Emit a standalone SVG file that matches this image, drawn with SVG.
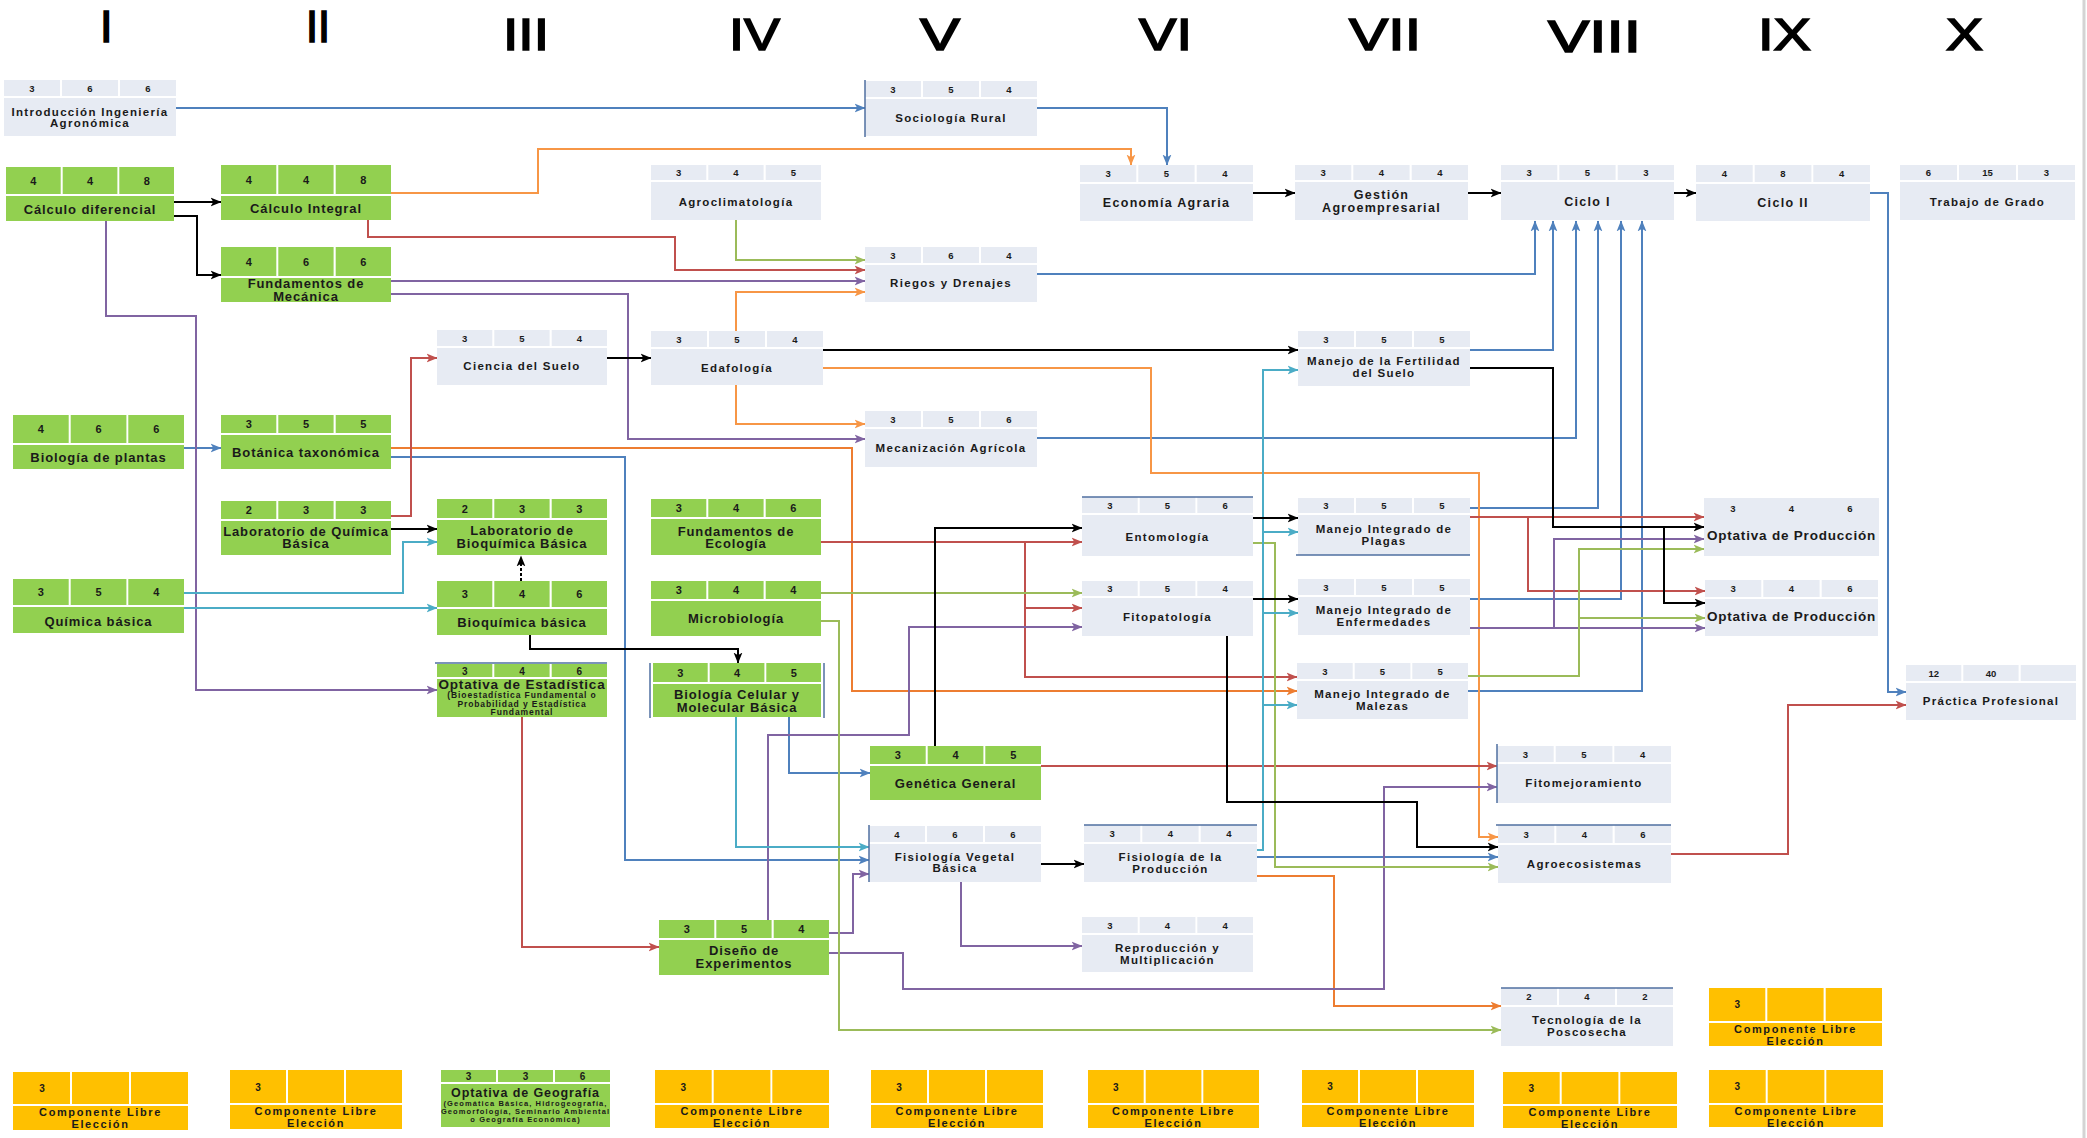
<svg xmlns="http://www.w3.org/2000/svg" width="2087" height="1138" viewBox="0 0 2087 1138">
<style>
.g{fill:#E7EBF3}
.v{fill:#92D050}
.y{fill:#FFC000}
text{font-family:"Liberation Sans",Arial,sans-serif;font-weight:bold;fill:#1a1a1a;text-anchor:middle}
.gn{font-size:9.5px}
.gl{font-size:11.5px;letter-spacing:1.3px}
.gL{font-size:12.5px;letter-spacing:1.3px}
.vn{font-size:11px}
.vl{font-size:13px;letter-spacing:0.9px}
.op{font-size:13.5px;letter-spacing:0.8px}
.sm{font-size:8.5px;letter-spacing:0.9px}
.sg{font-size:7.5px;letter-spacing:1.1px}
.yn{font-size:10px}
.yl{font-size:11px;letter-spacing:1.6px}
.hdr{font-size:45px;font-weight:normal;text-anchor:start;fill:#000;stroke:#000;stroke-width:1.6px}
.dec{stroke:#4F6FA0;stroke-width:1.5;fill:none}
.c{fill:none;stroke-width:2}
.bl{stroke:#4F81BD}.or{stroke:#F79646}.or2{stroke:#ED7D31}.rd{stroke:#C0504D}.pu{stroke:#8064A2}.gr{stroke:#9BBB59}.cy{stroke:#4BACC6}.bk{stroke:#000}
</style>
<defs>
<marker id="mB" viewBox="0 0 10 10" refX="9.5" refY="5" markerWidth="11" markerHeight="11" markerUnits="userSpaceOnUse" orient="auto"><path d="M0,1 L10,5 L0,9 L2.5,5 z" fill="#4F81BD"/></marker>
<marker id="mO" viewBox="0 0 10 10" refX="9.5" refY="5" markerWidth="11" markerHeight="11" markerUnits="userSpaceOnUse" orient="auto"><path d="M0,1 L10,5 L0,9 L2.5,5 z" fill="#F79646"/></marker>
<marker id="mO2" viewBox="0 0 10 10" refX="9.5" refY="5" markerWidth="11" markerHeight="11" markerUnits="userSpaceOnUse" orient="auto"><path d="M0,1 L10,5 L0,9 L2.5,5 z" fill="#ED7D31"/></marker>
<marker id="mR" viewBox="0 0 10 10" refX="9.5" refY="5" markerWidth="11" markerHeight="11" markerUnits="userSpaceOnUse" orient="auto"><path d="M0,1 L10,5 L0,9 L2.5,5 z" fill="#C0504D"/></marker>
<marker id="mP" viewBox="0 0 10 10" refX="9.5" refY="5" markerWidth="11" markerHeight="11" markerUnits="userSpaceOnUse" orient="auto"><path d="M0,1 L10,5 L0,9 L2.5,5 z" fill="#8064A2"/></marker>
<marker id="mG" viewBox="0 0 10 10" refX="9.5" refY="5" markerWidth="11" markerHeight="11" markerUnits="userSpaceOnUse" orient="auto"><path d="M0,1 L10,5 L0,9 L2.5,5 z" fill="#9BBB59"/></marker>
<marker id="mC" viewBox="0 0 10 10" refX="9.5" refY="5" markerWidth="11" markerHeight="11" markerUnits="userSpaceOnUse" orient="auto"><path d="M0,1 L10,5 L0,9 L2.5,5 z" fill="#4BACC6"/></marker>
<marker id="mK" viewBox="0 0 10 10" refX="9.5" refY="5" markerWidth="11" markerHeight="11" markerUnits="userSpaceOnUse" orient="auto"><path d="M0,1 L10,5 L0,9 L2.5,5 z" fill="#000"/></marker>
</defs>
<rect width="2087" height="1138" fill="#fff"/>
<line x1="2084" y1="0" x2="2084" y2="1138" stroke="#d4d4d4" stroke-width="3"/>

<g id="semesters">
<text class="hdr" x="100" y="42">I</text>
<text class="hdr" x="306" y="42" textLength="24" lengthAdjust="spacingAndGlyphs">II</text>
<text class="hdr" x="503" y="50" textLength="46" lengthAdjust="spacingAndGlyphs">III</text>
<text class="hdr" x="729" y="50" textLength="51" lengthAdjust="spacingAndGlyphs">IV</text>
<text class="hdr" x="920" y="50" textLength="40" lengthAdjust="spacingAndGlyphs">V</text>
<text class="hdr" x="1139" y="50" textLength="53" lengthAdjust="spacingAndGlyphs">VI</text>
<text class="hdr" x="1349" y="50" textLength="72" lengthAdjust="spacingAndGlyphs">VII</text>
<text class="hdr" x="1548" y="52" textLength="93" lengthAdjust="spacingAndGlyphs">VIII</text>
<text class="hdr" x="1758" y="50" textLength="53" lengthAdjust="spacingAndGlyphs">IX</text>
<text class="hdr" x="1946" y="50" textLength="37" lengthAdjust="spacingAndGlyphs">X</text>
</g>

<g id="connectors">
<path class="c bl" marker-end="url(#mB)" d="M176,108 H865"/>
<path class="c bl" marker-end="url(#mB)" d="M1037,108 H1167 V165"/>
<path class="c bl" marker-end="url(#mB)" d="M1037,274 H1535 V221"/>
<path class="c bl" marker-end="url(#mB)" d="M1470,350 H1553 V221"/>
<path class="c bl" marker-end="url(#mB)" d="M1037,438 H1576 V221"/>
<path class="c bl" marker-end="url(#mB)" d="M1470,508 H1598 V221"/>
<path class="c bl" marker-end="url(#mB)" d="M1470,599 H1621 V221"/>
<path class="c bl" marker-end="url(#mB)" d="M1468,691 H1642 V221"/>
<path class="c bl" marker-end="url(#mB)" d="M1870,193 H1888 V692 H1906"/>
<path class="c bl" marker-end="url(#mB)" d="M184,448 H221"/>
<path class="c bl" marker-end="url(#mB)" d="M391,457 H625 V860 H869"/>
<path class="c bl" marker-end="url(#mB)" d="M789,717 V773 H870"/>
<path class="c bl" marker-end="url(#mB)" d="M1257,857 H1498"/>

<path class="c or" marker-end="url(#mO)" d="M391,193 H538 V149 H1131 V165"/>
<path class="c or" marker-end="url(#mO)" d="M736,331 V292 H865"/>
<path class="c or" marker-end="url(#mO)" d="M736,385 V424 H865"/>
<path class="c or" marker-end="url(#mO)" d="M823,368 H1151 V473 H1479 V837 H1498"/>
<path class="c or2" marker-end="url(#mO2)" d="M391,448 H852 V691 H1297"/>
<path class="c or2" marker-end="url(#mO2)" d="M1257,876 H1334 V1006 H1501"/>

<path class="c rd" marker-end="url(#mR)" d="M368,220 V237 H675 V270 H865"/>
<path class="c rd" marker-end="url(#mR)" d="M391,516 H411 V358 H437"/>
<path class="c rd" marker-end="url(#mR)" d="M821,542 H1082"/>
<path class="c rd" marker-end="url(#mR)" d="M1025,542 V677 H1297"/>
<path class="c rd" marker-end="url(#mR)" d="M1025,608 H1082"/>
<path class="c rd" marker-end="url(#mR)" d="M522,717 V947 H659"/>
<path class="c rd" marker-end="url(#mR)" d="M1041,766 H1497"/>
<path class="c rd" marker-end="url(#mR)" d="M1671,854 H1788 V705 H1906"/>
<path class="c rd" marker-end="url(#mR)" d="M1470,517 H1704"/>
<path class="c rd" marker-end="url(#mR)" d="M1528,517 V591 H1705"/>

<path class="c pu" marker-end="url(#mP)" d="M106,221 V316 H196 V690 H437"/>
<path class="c pu" marker-end="url(#mP)" d="M391,281 H865"/>
<path class="c pu" marker-end="url(#mP)" d="M391,294 H628 V439 H865"/>
<path class="c pu" marker-end="url(#mP)" d="M768,920 V735 H909 V627 H1082"/>
<path class="c pu" marker-end="url(#mP)" d="M829,933 H853 V874 H869"/>
<path class="c pu" marker-end="url(#mP)" d="M829,953 H903 V989 H1384 V787 H1497"/>
<path class="c pu" marker-end="url(#mP)" d="M961,882 V946 H1082"/>
<path class="c pu" marker-end="url(#mP)" d="M1470,628 H1705"/>
<path class="c pu" marker-end="url(#mP)" d="M1554,628 V539 H1704"/>

<path class="c gr" marker-end="url(#mG)" d="M736,220 V260 H865"/>
<path class="c gr" marker-end="url(#mG)" d="M821,593 H1082"/>
<path class="c gr" marker-end="url(#mG)" d="M821,621 H839 V1030 H1501"/>
<path class="c gr" marker-end="url(#mG)" d="M1253,543 H1275 V867 H1498"/>
<path class="c gr" marker-end="url(#mG)" d="M1468,676 H1579 V549 H1704"/>
<path class="c gr" marker-end="url(#mG)" d="M1579,618 H1705"/>

<path class="c cy" marker-end="url(#mC)" d="M184,593 H403 V542 H437"/>
<path class="c cy" marker-end="url(#mC)" d="M184,608 H437"/>
<path class="c cy" marker-end="url(#mC)" d="M736,717 V847 H869"/>
<path class="c cy" marker-end="url(#mC)" d="M1257,850 H1263 V370 H1298"/>
<path class="c cy" marker-end="url(#mC)" d="M1263,532 H1298"/>
<path class="c cy" marker-end="url(#mC)" d="M1263,613 H1298"/>
<path class="c cy" marker-end="url(#mC)" d="M1263,705 H1297"/>

<path class="c bk" marker-end="url(#mK)" d="M174,202 H221"/>
<path class="c bk" marker-end="url(#mK)" d="M174,216 H197 V275 H221"/>
<path class="c bk" marker-end="url(#mK)" d="M1253,193 H1295"/>
<path class="c bk" marker-end="url(#mK)" d="M1468,193 H1501"/>
<path class="c bk" marker-end="url(#mK)" d="M1674,193 H1696"/>
<path class="c bk" marker-end="url(#mK)" d="M607,358 H651"/>
<path class="c bk" marker-end="url(#mK)" d="M823,350 H1298"/>
<path class="c bk" marker-end="url(#mK)" d="M391,529 H437"/>
<path class="c bk" marker-end="url(#mK)" stroke-dasharray="3,2" d="M521,581 V556"/>
<path class="c bk" marker-end="url(#mK)" d="M530,635 V649 H738 V663"/>
<path class="c bk" marker-end="url(#mK)" d="M935,746 V528 H1082"/>
<path class="c bk" marker-end="url(#mK)" d="M1253,518 H1298"/>
<path class="c bk" marker-end="url(#mK)" d="M1253,599 H1298"/>
<path class="c bk" marker-end="url(#mK)" d="M1041,864 H1084"/>
<path class="c bk" marker-end="url(#mK)" d="M1227,636 V802 H1417 V847 H1498"/>
<path class="c bk" marker-end="url(#mK)" d="M1470,368 H1553 V527 H1704"/>
<path class="c bk" marker-end="url(#mK)" d="M1664,527 V603 H1705"/>
</g>

<!-- gray nodes -->
<g id="n-intro" transform="translate(4,80)">
<rect class="g" width="56" height="16"/><rect class="g" x="58" width="56" height="16"/><rect class="g" x="116" width="56" height="16"/>
<rect class="g" y="18" width="172" height="38"/>
<text class="gn" x="28" y="11.5">3</text><text class="gn" x="86" y="11.5">6</text><text class="gn" x="144" y="11.5">6</text>
<text class="gl" x="86" y="36">Introducción Ingeniería</text><text class="gl" x="86" y="47">Agronómica</text>
</g>
<g id="n-socio" transform="translate(865,81)">
<rect class="g" width="56" height="16"/><rect class="g" x="58" width="56" height="16"/><rect class="g" x="116" width="56" height="16"/>
<rect class="g" y="18" width="172" height="37"/>
<text class="gn" x="28" y="11.5">3</text><text class="gn" x="86" y="11.5">5</text><text class="gn" x="144" y="11.5">4</text>
<text class="gl" x="86" y="40.5">Sociología Rural</text>
<line class="dec" x1="0" y1="-1" x2="0" y2="56"/>
</g>
<g id="n-econ" transform="translate(1080,165)">
<rect class="g" width="56.3" height="17"/><rect class="g" x="58.3" width="56.3" height="17"/><rect class="g" x="116.7" width="56.3" height="17"/>
<rect class="g" y="19" width="173" height="37"/>
<text class="gn" x="28.2" y="12">3</text><text class="gn" x="86.5" y="12">5</text><text class="gn" x="144.8" y="12">4</text>
<text class="gL" x="86.5" y="42">Economía Agraria</text>
</g>
<g id="n-gest" transform="translate(1295,165)">
<rect class="g" width="56.3" height="15"/><rect class="g" x="58.3" width="56.3" height="15"/><rect class="g" x="116.7" width="56.3" height="15"/>
<rect class="g" y="17" width="173" height="38"/>
<text class="gn" x="28.2" y="11">3</text><text class="gn" x="86.5" y="11">4</text><text class="gn" x="144.8" y="11">4</text>
<text class="gL" x="86.5" y="33.5">Gestión</text><text class="gL" x="86.5" y="46.5">Agroempresarial</text>
</g>
<g id="n-ciclo1" transform="translate(1501,165)">
<rect class="g" width="56.3" height="15"/><rect class="g" x="58.3" width="56.3" height="15"/><rect class="g" x="116.7" width="56.3" height="15"/>
<rect class="g" y="17" width="173" height="38"/>
<text class="gn" x="28.2" y="11">3</text><text class="gn" x="86.5" y="11">5</text><text class="gn" x="144.8" y="11">3</text>
<text class="gL" x="86.5" y="41">Ciclo I</text>
</g>
<g id="n-ciclo2" transform="translate(1696,165)">
<rect class="g" width="56.7" height="17"/><rect class="g" x="58.7" width="56.7" height="17"/><rect class="g" x="117.3" width="56.7" height="17"/>
<rect class="g" y="19" width="174" height="37"/>
<text class="gn" x="28.3" y="12">4</text><text class="gn" x="87" y="12">8</text><text class="gn" x="145.7" y="12">4</text>
<text class="gL" x="87" y="42">Ciclo II</text>
</g>
<g id="n-trabajo" transform="translate(1900,165)">
<rect class="g" width="57" height="15"/><rect class="g" x="59" width="57" height="15"/><rect class="g" x="118" width="57" height="15"/>
<rect class="g" y="17" width="175" height="38"/>
<text class="gn" x="28.5" y="11">6</text><text class="gn" x="87.5" y="11">15</text><text class="gn" x="146.5" y="11">3</text>
<text class="gl" x="87.5" y="41">Trabajo de Grado</text>
</g>
<g id="n-agroclim" transform="translate(651,165)">
<rect class="g" width="55.3" height="15"/><rect class="g" x="57.3" width="55.3" height="15"/><rect class="g" x="114.7" width="55.3" height="15"/>
<rect class="g" y="17" width="170" height="38"/>
<text class="gn" x="27.7" y="11">3</text><text class="gn" x="85" y="11">4</text><text class="gn" x="142.3" y="11">5</text>
<text class="gl" x="85" y="41">Agroclimatología</text>
</g>
<g id="n-riegos" transform="translate(865,247)">
<rect class="g" width="56" height="16"/><rect class="g" x="58" width="56" height="16"/><rect class="g" x="116" width="56" height="16"/>
<rect class="g" y="18" width="172" height="37"/>
<text class="gn" x="28" y="11.5">3</text><text class="gn" x="86" y="11.5">6</text><text class="gn" x="144" y="11.5">4</text>
<text class="gl" x="86" y="40">Riegos y Drenajes</text>
</g>
<g id="n-ciencia" transform="translate(437,330)">
<rect class="g" width="55.3" height="16"/><rect class="g" x="57.3" width="55.3" height="16"/><rect class="g" x="114.7" width="55.3" height="16"/>
<rect class="g" y="18" width="170" height="37"/>
<text class="gn" x="27.7" y="11.5">3</text><text class="gn" x="85" y="11.5">5</text><text class="gn" x="142.3" y="11.5">4</text>
<text class="gl" x="85" y="40">Ciencia del Suelo</text>
</g>
<g id="n-edaf" transform="translate(651,331)">
<rect class="g" width="56" height="16"/><rect class="g" x="58" width="56" height="16"/><rect class="g" x="116" width="56" height="16"/>
<rect class="g" y="18" width="172" height="36"/>
<text class="gn" x="28" y="11.5">3</text><text class="gn" x="86" y="11.5">5</text><text class="gn" x="144" y="11.5">4</text>
<text class="gl" x="86" y="41">Edafología</text>
</g>
<g id="n-fert" transform="translate(1298,331)">
<rect class="g" width="56" height="16"/><rect class="g" x="58" width="56" height="16"/><rect class="g" x="116" width="56" height="16"/>
<rect class="g" y="18" width="172" height="37"/>
<text class="gn" x="28" y="11.5">3</text><text class="gn" x="86" y="11.5">5</text><text class="gn" x="144" y="11.5">5</text>
<text class="gl" x="86" y="34">Manejo de la Fertilidad</text><text class="gl" x="86" y="46">del Suelo</text>
</g>
<g id="n-mecan" transform="translate(865,411)">
<rect class="g" width="56" height="16"/><rect class="g" x="58" width="56" height="16"/><rect class="g" x="116" width="56" height="16"/>
<rect class="g" y="18" width="172" height="38"/>
<text class="gn" x="28" y="11.5">3</text><text class="gn" x="86" y="11.5">5</text><text class="gn" x="144" y="11.5">6</text>
<text class="gl" x="86" y="41">Mecanización Agrícola</text>
</g>
<g id="n-entomo" transform="translate(1082,497)">
<rect class="g" width="55.7" height="16"/><rect class="g" x="57.7" width="55.7" height="16"/><rect class="g" x="115.3" width="55.7" height="16"/>
<rect class="g" y="18" width="171" height="41"/>
<text class="gn" x="27.8" y="11.5">3</text><text class="gn" x="85.5" y="11.5">5</text><text class="gn" x="143.2" y="11.5">6</text>
<text class="gl" x="85.5" y="44">Entomología</text>
<line class="dec" x1="0" y1="0" x2="171" y2="0"/>
</g>
<g id="n-plagas" transform="translate(1298,498)">
<rect class="g" width="56" height="15"/><rect class="g" x="58" width="56" height="15"/><rect class="g" x="116" width="56" height="15"/>
<rect class="g" y="17" width="172" height="40"/>
<text class="gn" x="28" y="11">3</text><text class="gn" x="86" y="11">5</text><text class="gn" x="144" y="11">5</text>
<text class="gl" x="86" y="35">Manejo Integrado de</text><text class="gl" x="86" y="47">Plagas</text>
<line class="dec" x1="-2" y1="57" x2="172" y2="57"/>
</g>
<g id="n-fitopat" transform="translate(1082,581)">
<rect class="g" width="55.7" height="15"/><rect class="g" x="57.7" width="55.7" height="15"/><rect class="g" x="115.3" width="55.7" height="15"/>
<rect class="g" y="17" width="171" height="38"/>
<text class="gn" x="27.8" y="11">3</text><text class="gn" x="85.5" y="11">5</text><text class="gn" x="143.2" y="11">4</text>
<text class="gl" x="85.5" y="40">Fitopatología</text>
</g>
<g id="n-enferm" transform="translate(1298,579)">
<rect class="g" width="56" height="16"/><rect class="g" x="58" width="56" height="16"/><rect class="g" x="116" width="56" height="16"/>
<rect class="g" y="18" width="172" height="38"/>
<text class="gn" x="28" y="11.5">3</text><text class="gn" x="86" y="11.5">5</text><text class="gn" x="144" y="11.5">5</text>
<text class="gl" x="86" y="35">Manejo Integrado de</text><text class="gl" x="86" y="47">Enfermedades</text>
</g>
<g id="n-malezas" transform="translate(1297,663)">
<rect class="g" width="55.7" height="16"/><rect class="g" x="57.7" width="55.7" height="16"/><rect class="g" x="115.3" width="55.7" height="16"/>
<rect class="g" y="18" width="171" height="38"/>
<text class="gn" x="27.8" y="11.5">3</text><text class="gn" x="85.5" y="11.5">5</text><text class="gn" x="143.2" y="11.5">5</text>
<text class="gl" x="85.5" y="35">Manejo Integrado de</text><text class="gl" x="85.5" y="47">Malezas</text>
</g>
<g id="n-optprod1" transform="translate(1704,498)">
<rect class="g" width="175" height="58"/>
<text class="gn" x="29" y="14">3</text><text class="gn" x="87.5" y="14">4</text><text class="gn" x="146" y="14">6</text>
<text class="op" x="87.5" y="41.5">Optativa de Producción</text>
</g>
<g id="n-optprod2" transform="translate(1705,580)">
<rect class="g" width="56.3" height="17"/><rect class="g" x="58.3" width="56.3" height="17"/><rect class="g" x="116.7" width="56.3" height="17"/>
<rect class="g" y="19" width="173" height="37"/>
<text class="gn" x="28.2" y="12">3</text><text class="gn" x="86.5" y="12">4</text><text class="gn" x="144.8" y="12">6</text>
<text class="op" x="86.5" y="40.5">Optativa de Producción</text>
</g>
<g id="n-practica" transform="translate(1906,665)">
<rect class="g" width="55.3" height="16"/><rect class="g" x="57.3" width="55.3" height="16"/><rect class="g" x="114.7" width="55.3" height="16"/>
<rect class="g" y="18" width="170" height="37"/>
<text class="gn" x="27.7" y="11.5">12</text><text class="gn" x="85" y="11.5">40</text>
<text class="gl" x="85" y="40">Práctica Profesional</text>
</g>
<g id="n-fitomej" transform="translate(1497,746)">
<rect class="g" width="56.7" height="16"/><rect class="g" x="58.7" width="56.7" height="16"/><rect class="g" x="117.3" width="56.7" height="16"/>
<rect class="g" y="18" width="174" height="39"/>
<text class="gn" x="28.3" y="11.5">3</text><text class="gn" x="87" y="11.5">5</text><text class="gn" x="145.7" y="11.5">4</text>
<text class="gl" x="87" y="41">Fitomejoramiento</text>
<line class="dec" x1="0" y1="-2" x2="0" y2="57"/>
</g>
<g id="n-agroeco" transform="translate(1498,825)">
<rect class="g" width="56.3" height="18"/><rect class="g" x="58.3" width="56.3" height="18"/><rect class="g" x="116.7" width="56.3" height="18"/>
<rect class="g" y="20" width="173" height="38"/>
<text class="gn" x="28.2" y="12.5">3</text><text class="gn" x="86.5" y="12.5">4</text><text class="gn" x="144.8" y="12.5">6</text>
<text class="gl" x="86.5" y="43">Agroecosistemas</text>
<line class="dec" x1="-2" y1="0" x2="173" y2="0"/>
</g>
<g id="n-fisioveg" transform="translate(869,826)">
<rect class="g" width="56" height="16"/><rect class="g" x="58" width="56" height="16"/><rect class="g" x="116" width="56" height="16"/>
<rect class="g" y="18" width="172" height="38"/>
<text class="gn" x="28" y="11.5">4</text><text class="gn" x="86" y="11.5">6</text><text class="gn" x="144" y="11.5">6</text>
<text class="gl" x="86" y="35">Fisiología Vegetal</text><text class="gl" x="86" y="46">Básica</text>
<line class="dec" x1="0" y1="-1" x2="0" y2="56"/>
</g>
<g id="n-fisioprod" transform="translate(1084,825)">
<rect class="g" width="56.3" height="17"/><rect class="g" x="58.3" width="56.3" height="17"/><rect class="g" x="116.7" width="56.3" height="17"/>
<rect class="g" y="19" width="173" height="38"/>
<text class="gn" x="28.2" y="12">3</text><text class="gn" x="86.5" y="12">4</text><text class="gn" x="144.8" y="12">4</text>
<text class="gl" x="86.5" y="36">Fisiología de la</text><text class="gl" x="86.5" y="48">Producción</text>
<line class="dec" x1="0" y1="0" x2="173" y2="0"/>
</g>
<g id="n-reprod" transform="translate(1082,917)">
<rect class="g" width="55.7" height="16"/><rect class="g" x="57.7" width="55.7" height="16"/><rect class="g" x="115.3" width="55.7" height="16"/>
<rect class="g" y="18" width="171" height="37"/>
<text class="gn" x="27.8" y="11.5">3</text><text class="gn" x="85.5" y="11.5">4</text><text class="gn" x="143.2" y="11.5">4</text>
<text class="gl" x="85.5" y="35">Reproducción y</text><text class="gl" x="85.5" y="47">Multiplicación</text>
</g>
<g id="n-poscos" transform="translate(1501,988)">
<rect class="g" width="56" height="17"/><rect class="g" x="58" width="56" height="17"/><rect class="g" x="116" width="56" height="17"/>
<rect class="g" y="19" width="172" height="39"/>
<text class="gn" x="28" y="12">2</text><text class="gn" x="86" y="12">4</text><text class="gn" x="144" y="12">2</text>
<text class="gl" x="86" y="36">Tecnología de la</text><text class="gl" x="86" y="48">Poscosecha</text>
<line class="dec" x1="0" y1="0" x2="172" y2="0"/>
</g>

<!-- green nodes -->
<g id="n-calcdif" transform="translate(6,167)">
<rect class="v" width="54.7" height="27"/><rect class="v" x="56.7" width="54.7" height="27"/><rect class="v" x="113.3" width="54.7" height="27"/>
<rect class="v" y="29" width="168" height="25"/>
<text class="vn" x="27.3" y="17.5">4</text><text class="vn" x="84" y="17.5">4</text><text class="vn" x="140.7" y="17.5">8</text>
<text class="vl" x="84" y="46.5">Cálculo diferencial</text>
</g>
<g id="n-calcint" transform="translate(221,165)">
<rect class="v" width="55.3" height="29"/><rect class="v" x="57.3" width="55.3" height="29"/><rect class="v" x="114.7" width="55.3" height="29"/>
<rect class="v" y="31" width="170" height="24"/>
<text class="vn" x="27.7" y="18.5">4</text><text class="vn" x="85" y="18.5">4</text><text class="vn" x="142.3" y="18.5">8</text>
<text class="vl" x="85" y="47.5">Cálculo Integral</text>
</g>
<g id="n-fundmec" transform="translate(221,247)">
<rect class="v" width="55.3" height="29"/><rect class="v" x="57.3" width="55.3" height="29"/><rect class="v" x="114.7" width="55.3" height="29"/>
<rect class="v" y="31" width="170" height="24"/>
<text class="vn" x="27.7" y="18.5">4</text><text class="vn" x="85" y="18.5">6</text><text class="vn" x="142.3" y="18.5">6</text>
<text class="vl" x="85" y="40.5">Fundamentos de</text><text class="vl" x="85" y="53.5">Mecánica</text>
</g>
<g id="n-bioplan" transform="translate(13,415)">
<rect class="v" width="55.7" height="28"/><rect class="v" x="57.7" width="55.7" height="28"/><rect class="v" x="115.3" width="55.7" height="28"/>
<rect class="v" y="30" width="171" height="24"/>
<text class="vn" x="27.8" y="18">4</text><text class="vn" x="85.5" y="18">6</text><text class="vn" x="143.2" y="18">6</text>
<text class="vl" x="85.5" y="46.5">Biología de plantas</text>
</g>
<g id="n-botan" transform="translate(221,415)">
<rect class="v" width="55.3" height="18"/><rect class="v" x="57.3" width="55.3" height="18"/><rect class="v" x="114.7" width="55.3" height="18"/>
<rect class="v" y="20" width="170" height="34"/>
<text class="vn" x="27.7" y="13">3</text><text class="vn" x="85" y="13">5</text><text class="vn" x="142.3" y="13">5</text>
<text class="vl" x="85" y="41.5">Botánica taxonómica</text>
</g>
<g id="n-labqca" transform="translate(221,501)">
<rect class="v" width="55.3" height="18"/><rect class="v" x="57.3" width="55.3" height="18"/><rect class="v" x="114.7" width="55.3" height="18"/>
<rect class="v" y="20" width="170" height="34"/>
<text class="vn" x="27.7" y="13">2</text><text class="vn" x="85" y="13">3</text><text class="vn" x="142.3" y="13">3</text>
<text class="vl" x="85" y="34.5">Laboratorio de Química</text><text class="vl" x="85" y="46.5">Básica</text>
</g>
<g id="n-qcabas" transform="translate(13,579)">
<rect class="v" width="55.7" height="26"/><rect class="v" x="57.7" width="55.7" height="26"/><rect class="v" x="115.3" width="55.7" height="26"/>
<rect class="v" y="28" width="171" height="26"/>
<text class="vn" x="27.8" y="17">3</text><text class="vn" x="85.5" y="17">5</text><text class="vn" x="143.2" y="17">4</text>
<text class="vl" x="85.5" y="46.5">Química básica</text>
</g>
<g id="n-labbioq" transform="translate(437,499)">
<rect class="v" width="55.3" height="19"/><rect class="v" x="57.3" width="55.3" height="19"/><rect class="v" x="114.7" width="55.3" height="19"/>
<rect class="v" y="21" width="170" height="35"/>
<text class="vn" x="27.7" y="13.5">2</text><text class="vn" x="85" y="13.5">3</text><text class="vn" x="142.3" y="13.5">3</text>
<text class="vl" x="85" y="35.5">Laboratorio de</text><text class="vl" x="85" y="48.5">Bioquímica Básica</text>
</g>
<g id="n-bioq" transform="translate(437,581)">
<rect class="v" width="55.3" height="26"/><rect class="v" x="57.3" width="55.3" height="26"/><rect class="v" x="114.7" width="55.3" height="26"/>
<rect class="v" y="28" width="170" height="26"/>
<text class="vn" x="27.7" y="17">3</text><text class="vn" x="85" y="17">4</text><text class="vn" x="142.3" y="17">6</text>
<text class="vl" x="85" y="45.5">Bioquímica básica</text>
</g>
<g id="n-optest" transform="translate(437,664)">
<rect class="v" width="55.3" height="13"/><rect class="v" x="57.3" width="55.3" height="13"/><rect class="v" x="114.7" width="55.3" height="13"/>
<rect class="v" y="15" width="170" height="38"/>
<text class="yn" x="27.7" y="10.5">3</text><text class="yn" x="85" y="10.5">4</text><text class="yn" x="142.3" y="10.5">6</text>
<text class="op" x="85" y="24.5">Optativa de Estadística</text>
<text class="sm" x="85" y="33.5">(Bioestadística Fundamental o</text>
<text class="sm" x="85" y="42.5">Probabilidad y Estadística</text>
<text class="sm" x="85" y="51">Fundamental</text>
<line class="dec" x1="-2" y1="-1" x2="170" y2="-1"/>
</g>
<g id="n-fundeco" transform="translate(651,499)">
<rect class="v" width="55.3" height="18"/><rect class="v" x="57.3" width="55.3" height="18"/><rect class="v" x="114.7" width="55.3" height="18"/>
<rect class="v" y="20" width="170" height="36"/>
<text class="vn" x="27.7" y="13">3</text><text class="vn" x="85" y="13">4</text><text class="vn" x="142.3" y="13">6</text>
<text class="vl" x="85" y="36.5">Fundamentos de</text><text class="vl" x="85" y="48.5">Ecología</text>
</g>
<g id="n-micro" transform="translate(651,581)">
<rect class="v" width="55.3" height="18"/><rect class="v" x="57.3" width="55.3" height="18"/><rect class="v" x="114.7" width="55.3" height="18"/>
<rect class="v" y="20" width="170" height="35"/>
<text class="vn" x="27.7" y="13">3</text><text class="vn" x="85" y="13">4</text><text class="vn" x="142.3" y="13">4</text>
<text class="vl" x="85" y="41.5">Microbiología</text>
</g>
<g id="n-biocel" transform="translate(653,663)">
<rect class="v" width="54.7" height="19"/><rect class="v" x="56.7" width="54.7" height="19"/><rect class="v" x="113.3" width="54.7" height="19"/>
<rect class="v" y="21" width="168" height="33"/>
<text class="vn" x="27.3" y="13.5">3</text><text class="vn" x="84" y="13.5">4</text><text class="vn" x="140.7" y="13.5">5</text>
<text class="vl" x="84" y="35.5">Biología Celular y</text><text class="vl" x="84" y="48.5">Molecular Básica</text>
<line class="dec" x1="-3" y1="0" x2="-3" y2="55"/><line class="dec" x1="171" y1="0" x2="171" y2="55"/>
</g>
<g id="n-genet" transform="translate(870,746)">
<rect class="v" width="55.7" height="18"/><rect class="v" x="57.7" width="55.7" height="18"/><rect class="v" x="115.3" width="55.7" height="18"/>
<rect class="v" y="20" width="171" height="34"/>
<text class="vn" x="27.8" y="13">3</text><text class="vn" x="85.5" y="13">4</text><text class="vn" x="143.2" y="13">5</text>
<text class="vl" x="85.5" y="41.5">Genética General</text>
</g>
<g id="n-diseno" transform="translate(659,920)">
<rect class="v" width="55.3" height="18"/><rect class="v" x="57.3" width="55.3" height="18"/><rect class="v" x="114.7" width="55.3" height="18"/>
<rect class="v" y="20" width="170" height="35"/>
<text class="vn" x="27.7" y="13">3</text><text class="vn" x="85" y="13">5</text><text class="vn" x="142.3" y="13">4</text>
<text class="vl" x="85" y="34.5">Diseño de</text><text class="vl" x="85" y="47.5">Experimentos</text>
</g>
<g id="n-optgeo" transform="translate(441,1070)">
<rect class="v" width="55" height="12"/><rect class="v" x="57" width="55" height="12"/><rect class="v" x="114" width="55" height="12"/>
<rect class="v" y="14" width="169" height="43"/>
<text class="yn" x="27.5" y="10">3</text><text class="yn" x="84.5" y="10">3</text><text class="yn" x="141.5" y="10">6</text>
<text class="vl" x="84.5" y="26.5" style="font-size:12.5px">Optativa de Geografía</text>
<text class="sg" x="84.5" y="35.5">(Geomática Básica, Hidrogeografía,</text>
<text class="sg" x="84.5" y="43.5">Geomorfología, Seminario Ambiental</text>
<text class="sg" x="84.5" y="51.5">o Geografía Económica)</text>
</g>

<!-- yellow nodes -->
<g id="n-cl1" transform="translate(13,1072)">
<rect class="y" width="57" height="32"/><rect class="y" x="59" width="57" height="32"/><rect class="y" x="118" width="57" height="32"/>
<rect class="y" y="34" width="175" height="24"/>
<text class="yn" x="29" y="20">3</text>
<text class="yl" x="87.5" y="44">Componente Libre</text><text class="yl" x="87.5" y="56">Elección</text>
</g>
<g id="n-cl2" transform="translate(230,1070)">
<rect class="y" width="56" height="33"/><rect class="y" x="58" width="56" height="33"/><rect class="y" x="116" width="56" height="33"/>
<rect class="y" y="35" width="172" height="24"/>
<text class="yn" x="28" y="21">3</text>
<text class="yl" x="86" y="45">Componente Libre</text><text class="yl" x="86" y="57">Elección</text>
</g>
<g id="n-cl4" transform="translate(655,1070)">
<rect class="y" width="56.7" height="33"/><rect class="y" x="58.7" width="56.7" height="33"/><rect class="y" x="117.3" width="56.7" height="33"/>
<rect class="y" y="35" width="174" height="23"/>
<text class="yn" x="28.3" y="21">3</text>
<text class="yl" x="87" y="45">Componente Libre</text><text class="yl" x="87" y="57">Elección</text>
</g>
<g id="n-cl5" transform="translate(871,1070)">
<rect class="y" width="56" height="33"/><rect class="y" x="58" width="56" height="33"/><rect class="y" x="116" width="56" height="33"/>
<rect class="y" y="35" width="172" height="23"/>
<text class="yn" x="28" y="21">3</text>
<text class="yl" x="86" y="45">Componente Libre</text><text class="yl" x="86" y="57">Elección</text>
</g>
<g id="n-cl6" transform="translate(1088,1070)">
<rect class="y" width="55.7" height="33"/><rect class="y" x="57.7" width="55.7" height="33"/><rect class="y" x="115.3" width="55.7" height="33"/>
<rect class="y" y="35" width="171" height="23"/>
<text class="yn" x="27.8" y="21">3</text>
<text class="yl" x="85.5" y="45">Componente Libre</text><text class="yl" x="85.5" y="57">Elección</text>
</g>
<g id="n-cl7" transform="translate(1302,1070)">
<rect class="y" width="56" height="33"/><rect class="y" x="58" width="56" height="33"/><rect class="y" x="116" width="56" height="33"/>
<rect class="y" y="35" width="172" height="22"/>
<text class="yn" x="28" y="20">3</text>
<text class="yl" x="86" y="45">Componente Libre</text><text class="yl" x="86" y="56.5">Elección</text>
</g>
<g id="n-cl8" transform="translate(1503,1072)">
<rect class="y" width="56.7" height="32"/><rect class="y" x="58.7" width="56.7" height="32"/><rect class="y" x="117.3" width="56.7" height="32"/>
<rect class="y" y="34" width="174" height="22"/>
<text class="yn" x="28.3" y="20">3</text>
<text class="yl" x="87" y="44">Componente Libre</text><text class="yl" x="87" y="55.5">Elección</text>
</g>
<g id="n-cl9a" transform="translate(1709,988)">
<rect class="y" width="56.3" height="33"/><rect class="y" x="58.3" width="56.3" height="33"/><rect class="y" x="116.7" width="56.3" height="33"/>
<rect class="y" y="35" width="173" height="23"/>
<text class="yn" x="28.2" y="20">3</text>
<text class="yl" x="86.5" y="45">Componente Libre</text><text class="yl" x="86.5" y="57">Elección</text>
</g>
<g id="n-cl9b" transform="translate(1709,1070)">
<rect class="y" width="56.7" height="33"/><rect class="y" x="58.7" width="56.7" height="33"/><rect class="y" x="117.3" width="56.7" height="33"/>
<rect class="y" y="35" width="174" height="22"/>
<text class="yn" x="28.3" y="20">3</text>
<text class="yl" x="87" y="45">Componente Libre</text><text class="yl" x="87" y="56.5">Elección</text>
</g>
</svg>
